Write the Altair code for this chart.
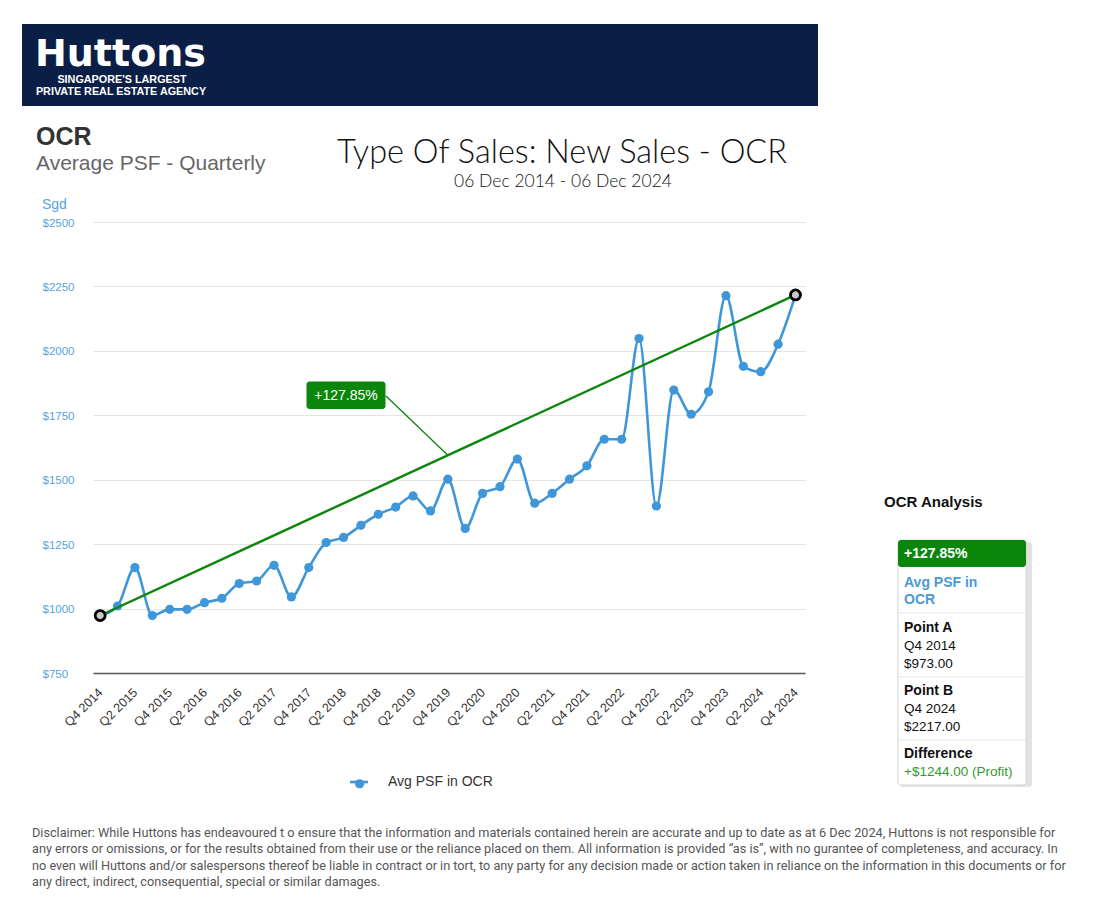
import altair as alt
import pandas as pd

# ---------------- data ----------------
quarters = [
    "Q4 2014", "Q1 2015", "Q2 2015", "Q3 2015", "Q4 2015", "Q1 2016", "Q2 2016", "Q3 2016",
    "Q4 2016", "Q1 2017", "Q2 2017", "Q3 2017", "Q4 2017", "Q1 2018", "Q2 2018", "Q3 2018",
    "Q4 2018", "Q1 2019", "Q2 2019", "Q3 2019", "Q4 2019", "Q1 2020", "Q2 2020", "Q3 2020",
    "Q4 2020", "Q1 2021", "Q2 2021", "Q3 2021", "Q4 2021", "Q1 2022", "Q2 2022", "Q3 2022",
    "Q4 2022", "Q1 2023", "Q2 2023", "Q3 2023", "Q4 2023", "Q1 2024", "Q2 2024", "Q3 2024",
    "Q4 2024",
]
avg_psf = [
    973, 1010, 1159, 973, 997, 997, 1023, 1040,
    1097, 1107, 1168, 1045, 1159, 1256, 1276, 1323,
    1366, 1394, 1437, 1379, 1502, 1311, 1447, 1473,
    1580, 1409, 1447, 1502, 1554, 1657, 1657, 2048,
    1398, 1848, 1754, 1841, 2214, 1940, 1919, 2026,
    2217,
]
y_ticks = [750, 1000, 1250, 1500, 1750, 2000, 2250, 2500]
x_tick_labels = quarters[::2]
series_name = "Avg PSF in OCR"

point_a_q, point_b_q = quarters[0], quarters[-1]
point_a_v, point_b_v = avg_psf[0], avg_psf[-1]
pct_text = f"+{(point_b_v - point_a_v) / point_a_v * 100:.2f}%"
diff_text = f"+${point_b_v - point_a_v:.2f} (Profit)"

disclaimer = [
    "Disclaimer: While Huttons has endeavoured t o ensure that the information and materials contained herein are accurate and up to date as at 6 Dec 2024, Huttons is not responsible for",
    "any errors or omissions, or for the results obtained from their use or the reliance placed on them. All information is provided \u201cas is\u201d, with no gurantee of completeness, and accuracy. In",
    "no even will Huttons and/or salespersons thereof be liable in contract or in tort, to any party for any decision made or action taken in reliance on the information in this documents or for",
    "any direct, indirect, consequential, special or similar damages.",
]

# ---------------- styling / layout ----------------
BLUE = "#3f97d9"
LABEL_BLUE = "#56a3dc"
GREEN = "#0a860a"
NAVY = "#0b1e45"
FONT = "Liberation Sans"

OX, OY = 93, 222          # page position of plot-area origin
W, H = 712, 451


def X(px):
    return px - OX


def Y(py):
    return py - OY


one = pd.DataFrame({"d": [0]})


def rect(x1, y1, x2, y2, **kw):
    return alt.Chart(one).mark_rect(**kw).encode(
        x=alt.value(X(x1)), x2=alt.value(X(x2)), y=alt.value(Y(y1)), y2=alt.value(Y(y2))
    )


def hline(x1, x2, y, **kw):
    return alt.Chart(one).mark_rule(**kw).encode(
        x=alt.value(X(x1)), x2=alt.value(X(x2)), y=alt.value(Y(y))
    )


def text(s, x, y, align="left", baseline="middle", font=FONT, **kw):
    return alt.Chart(one).mark_text(
        text=s, align=align, baseline=baseline, font=font, **kw
    ).encode(x=alt.value(X(x)), y=alt.value(Y(y)))


df = pd.DataFrame({"quarter": quarters, "psf": avg_psf})
trend = pd.DataFrame({"quarter": [point_a_q, point_b_q], "psf": [point_a_v, point_b_v]})
mid = pd.DataFrame({"quarter": [quarters[20]], "psf": [(point_a_v + point_b_v) / 2]})

xenc = alt.X(
    "quarter:O",
    sort=quarters,
    scale=alt.Scale(type="point", domain=quarters, padding=0.48, align=0.43),
    axis=alt.Axis(
        values=x_tick_labels, labelAngle=-45, labelAlign="right", labelBaseline="middle",
        labelPadding=17, ticks=False, tickSize=0, domainColor="#555555", domainWidth=1.6,
        grid=False, title=None, labelFont=FONT, labelFontSize=12.5, labelColor="#333333",
        labelOverlap=False, labelBound=False,
    ),
)
yenc = alt.Y(
    "psf:Q",
    scale=alt.Scale(domain=[750, 2500], nice=False, zero=False),
    axis=alt.Axis(
        values=y_ticks, labelExpr="'$' + datum.value", labelAlign="left", labelPadding=51,
        ticks=False, tickSize=0, domain=False, gridColor="#e4e4e4", gridWidth=1,
        title=None, labelColor=LABEL_BLUE, labelFontSize=11.5, labelFont=FONT, labelOffset=1,
    ),
)

line = alt.Chart(df).mark_line(interpolate="monotone", color=BLUE, strokeWidth=2.6).encode(x=xenc, y=yenc)
pts = alt.Chart(df).mark_circle(size=85, color=BLUE, opacity=1).encode(x=xenc, y=yenc)
trend_line = alt.Chart(trend).mark_line(color=GREEN, strokeWidth=2.4).encode(x=xenc, y=yenc)
ends = alt.Chart(trend).mark_circle(
    size=100, fill="#c8c8c8", stroke="#000000", strokeWidth=2.8, opacity=1
).encode(x=xenc, y=yenc)
connector = alt.Chart(mid).mark_rule(color=GREEN, strokeWidth=1.3).encode(
    x=xenc, y=yenc, x2=alt.value(X(386)), y2=alt.value(Y(396))
)

layers = [
    # header banner
    rect(22, 24, 818, 106, color=NAVY),
    text("Huttons", 35, 65.5, baseline="alphabetic", font="DejaVu Sans", fontSize=38,
         fontWeight="bold", color="white"),
    text("SINGAPORE'S LARGEST", 122, 80, align="center", fontSize=10.8, fontWeight="bold", color="white"),
    text("PRIVATE REAL ESTATE AGENCY", 121, 91.5, align="center", fontSize=10.8, fontWeight="bold", color="white"),
    # chart headings
    text("OCR", 36, 136.5, fontSize=25, fontWeight="bold", color="#333333"),
    text("Average PSF - Quarterly", 36, 164, fontSize=21, color="#666666"),
    text("Type Of Sales: New Sales - OCR", 562, 153, align="center", font="Lato", fontSize=32.5,
         fontWeight=300, color="#111111"),
    text("06 Dec 2014 - 06 Dec 2024", 563, 182, align="center", font="Lato", fontSize=17.5,
         fontWeight=300, color="#111111"),
    text("Sgd", 42, 205, fontSize=14, color=LABEL_BLUE),
    # data
    line, pts, connector, trend_line, ends,
    # annotation box
    rect(306.5, 381.5, 385.5, 409, color=GREEN, cornerRadius=3),
    text(pct_text, 346, 396, align="center", fontSize=14, color="white"),
    # legend
    hline(350, 368, 782, color=BLUE, strokeWidth=2.6),
    text("\u25cf", 359.5, 782.5, align="center", font="DejaVu Sans", fontSize=12, color=BLUE),
    text(series_name, 388, 782, fontSize=14, color="#333333"),
    # analysis panel
    text("OCR Analysis", 884, 502, fontSize=15, fontWeight="bold", color="#111111"),
    rect(900, 542, 1032, 787, color="#e2e2e2", cornerRadius=3),
    rect(898, 540, 1026, 785, fill="white", stroke="#d4d4d4", strokeWidth=1, cornerRadius=3),
    rect(898, 540, 1026, 567, color=GREEN, cornerRadius=3),
    text(pct_text, 904, 554, fontSize=14, fontWeight="bold", color="white"),
    text("Avg PSF in", 904, 583, fontSize=14, fontWeight="bold", color="#4a9ad6"),
    text("OCR", 904, 600, fontSize=14, fontWeight="bold", color="#4a9ad6"),
    hline(899, 1025, 613, color="#e6e6e6", strokeWidth=1),
    text("Point A", 904, 628, fontSize=14, fontWeight="bold", color="#111111"),
    text(point_a_q, 904, 646, fontSize=13.5, color="#111111"),
    text(f"${point_a_v:.2f}", 904, 664, fontSize=13.5, color="#111111"),
    hline(899, 1025, 677, color="#e6e6e6", strokeWidth=1),
    text("Point B", 904, 691, fontSize=14, fontWeight="bold", color="#111111"),
    text(point_b_q, 904, 709, fontSize=13.5, color="#111111"),
    text(f"${point_b_v:.2f}", 904, 727, fontSize=13.5, color="#111111"),
    hline(899, 1025, 740, color="#e6e6e6", strokeWidth=1),
    text("Difference", 904, 754, fontSize=14, fontWeight="bold", color="#111111"),
    text(diff_text, 904, 772, fontSize=13.5, color="#2e9a2e"),
]
for i, s in enumerate(disclaimer):
    layers.append(text(s, 32, 833 + i * 16.3, font="Roboto", fontSize=12.7, color="#555555"))

chart = alt.layer(*layers).properties(
    width=W, height=H,
    autosize=alt.AutoSizeParams(type="none"),
    padding={"left": OX - 8, "top": OY - 8, "right": 1092 - OX - W, "bottom": 884 - (OY - 8) - H},
    background="white",
).configure_view(strokeWidth=0)

chart.save("out.html", embed_options={"renderer": "svg", "actions": False})
